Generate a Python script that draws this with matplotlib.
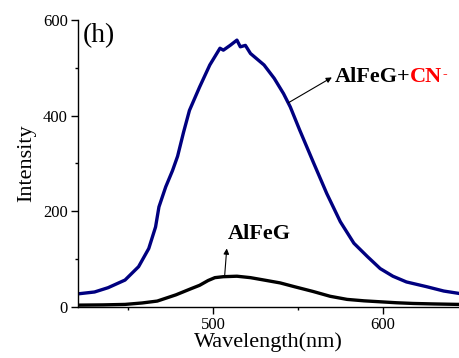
import matplotlib
matplotlib.use("Agg")
import matplotlib.pyplot as plt
from matplotlib.ticker import MultipleLocator

plt.rcParams['font.family'] = ['Liberation Serif', 'DejaVu Serif']

# Data
wl_cn = [420, 430, 438, 448, 456, 462, 466, 468, 472, 476, 479, 482.5, 486, 492,
         498, 504, 506, 510, 514, 516, 519, 522, 530, 536, 541.5, 545.5, 551,
         559, 567, 575, 583, 591, 598.5, 606, 614, 626, 636, 645]
int_cn = [27, 31, 40, 56, 84, 122, 167, 209, 251, 285, 315, 365, 411, 460,
          506, 541, 537, 547, 558, 544, 547, 530, 506, 478, 446, 418, 370,
          303, 237, 178, 133, 105, 80, 64, 52, 42, 33, 28]

wl_g = [420, 435, 448, 458, 467, 478, 487, 492, 497, 501, 506, 514, 522, 530,
        539.5, 548, 559, 569, 579, 589, 598.5, 608, 618, 630, 645]
int_g = [3.5, 4, 5, 8, 12, 25, 38, 45, 55, 61, 63, 64, 61, 56,
         50, 42, 32, 22, 15.5, 12.5, 10.5, 8.5, 7, 6, 5]

label_cn_black = "AlFeG+"
label_cn_red = "CN"
label_g = "AlFeG"
panel = "(h)"

fig = plt.figure(figsize=(4.59, 3.58), dpi=100)
ax = fig.add_axes([0.169, 0.143, 0.831, 0.801])

ax.plot(wl_cn, int_cn, color='#000080', lw=2.4, solid_joinstyle='round')
ax.plot(wl_g, int_g, color='black', lw=2.4, solid_joinstyle='round')

ax.set_xlim(420, 645)
ax.set_ylim(0, 600)
ax.xaxis.set_major_locator(MultipleLocator(100))
ax.xaxis.set_minor_locator(MultipleLocator(50))
ax.yaxis.set_major_locator(MultipleLocator(200))
ax.yaxis.set_minor_locator(MultipleLocator(100))
for s in ['top', 'right']:
    ax.spines[s].set_visible(False)
for s in ['left', 'bottom']:
    ax.spines[s].set_linewidth(1.0)
ax.tick_params(which='major', direction='out', length=5, width=1, labelsize=12, pad=2)
ax.tick_params(which='minor', direction='out', length=2.5, width=1)

ax.set_xlabel("Wavelength(nm)", fontsize=16, labelpad=0)
ax.set_ylabel("Intensity", fontsize=16, labelpad=5)

ax.text(423, 594, panel, fontsize=20, va='top', ha='left')

arrow = dict(arrowstyle='-|>', color='black', lw=0.8, mutation_scale=8,
             shrinkA=0, shrinkB=0)

# upper annotation
t1 = ax.text(571.5, 471, label_cn_black, fontsize=16, fontweight='bold',
             va='baseline', ha='left')
t2 = ax.annotate(label_cn_red, xy=(1, 0), xycoords=t1, fontsize=16,
                 fontweight='bold', color='red', va='bottom', ha='left')
ax.annotate("-", xy=(1, 0.92), xycoords=t2, fontsize=10, fontweight='bold',
            color='red', va='top', ha='left')
ax.annotate("", xy=(570, 480), xytext=(544.4, 427), arrowprops=arrow)

# lower annotation
ax.text(508.5, 142, label_g, fontsize=16, fontweight='bold',
        va='baseline', ha='left')
ax.annotate("", xy=(508, 122), xytext=(506.7, 62), arrowprops=arrow)

fig.savefig("out.png", dpi=100)
